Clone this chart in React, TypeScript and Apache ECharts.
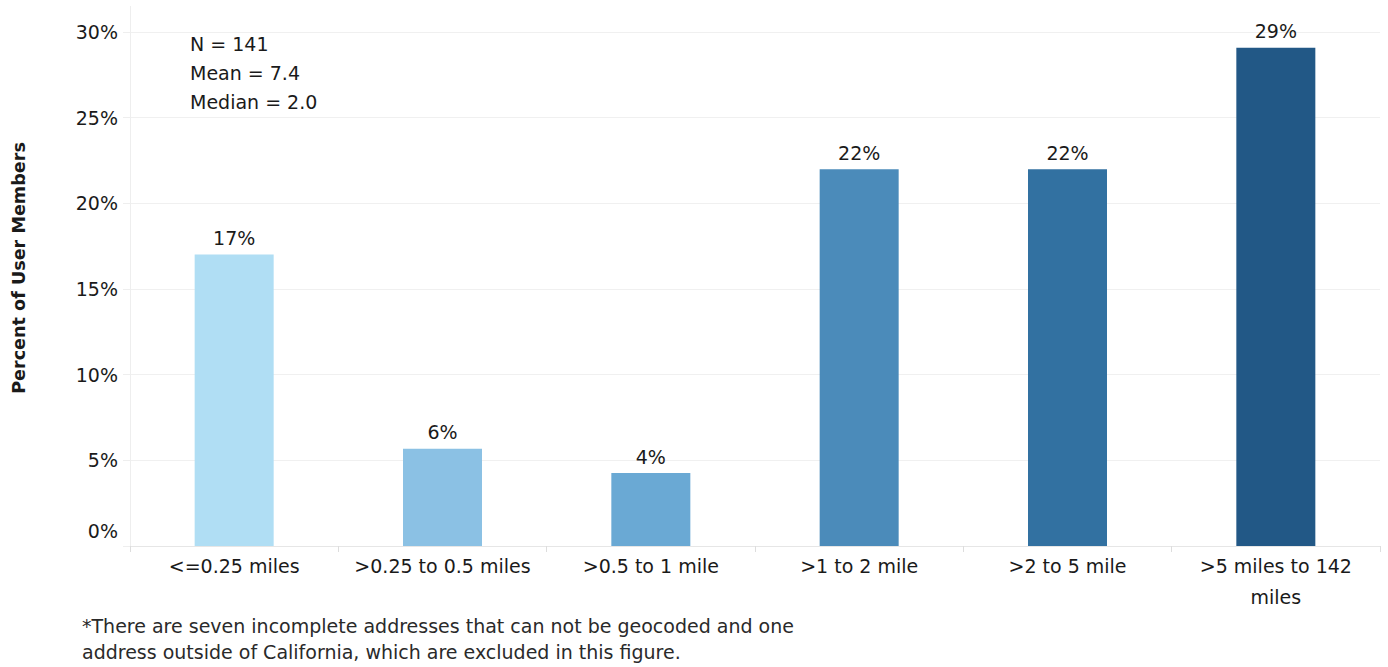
import React, { useEffect, useRef } from "react";
import * as echarts from "echarts";

// Distance bands from home to the nearest station
const categories = [
  "<=0.25 miles",
  ">0.25 to 0.5 miles",
  ">0.5 to 1 mile",
  ">1 to 2 mile",
  ">2 to 5 mile",
  ">5 miles to 142\nmiles",
];

// Share of user members in each band (%)
const percentValues = [17.02, 5.67, 4.26, 21.99, 21.99, 29.08];

// Sequential blues, light to dark
const barColors = ["#b0def4", "#8bc1e4", "#6aa9d4", "#4b8bba", "#3271a1", "#225886"];

const yTicks = [0, 5, 10, 15, 20, 25, 30];

const statsLines = ["N = 141", "Mean = 7.4", "Median = 2.0"];

const footnoteLines = [
  "*There are seven incomplete addresses that can not be geocoded and one",
  "address outside of California, which are excluded in this figure.",
];

const FONT = "'DejaVu Sans', 'Noto Sans', sans-serif";

export default function App() {
  const ref = useRef<HTMLDivElement>(null);

  useEffect(() => {
    if (!ref.current) return;
    const chart = echarts.init(ref.current, undefined, { renderer: "svg" });

    const option: echarts.EChartsOption = {
      animation: false,
      backgroundColor: "#ffffff",
      textStyle: { fontFamily: FONT },
      grid: { left: 130, right: 8, top: 32, bottom: 121, containLabel: false },
      xAxis: {
        type: "category",
        data: categories,
        axisLine: { show: true, lineStyle: { color: "#e6e6e6", width: 1 } },
        axisTick: { show: true, alignWithLabel: false, length: 6, lineStyle: { color: "#dddddd" } },
        axisLabel: {
          color: "#1a1a1a",
          fontSize: 19,
          fontFamily: FONT,
          margin: 4,
          lineHeight: 31,
          interval: 0,
        },
      },
      yAxis: {
        type: "value",
        min: yTicks[0],
        max: yTicks[yTicks.length - 1],
        interval: 5,
        axisLine: { show: true, lineStyle: { color: "#eeeeee" } },
        axisTick: { show: true, length: 7, lineStyle: { color: "#eeeeee" } },
        splitLine: { show: true, lineStyle: { color: "#f0f0f0", width: 1 } },
        axisLabel: {
          color: "#1a1a1a",
          fontSize: 19,
          fontFamily: FONT,
          margin: 12,
          formatter: (v: number) => (v === 0 ? "{z|0%}" : `${v}%`),
          rich: {
            z: { fontSize: 19, fontFamily: FONT, color: "#1a1a1a", padding: [0, 0, 30, 0] },
          },
        },
      },
      series: [
        {
          type: "bar",
          barWidth: 79,
          data: percentValues.map((v, i) => ({ value: v, itemStyle: { color: barColors[i] } })),
          label: {
            show: true,
            position: "top",
            distance: 7,
            color: "#1a1a1a",
            fontSize: 19,
            fontFamily: FONT,
            formatter: (p: any) => `${Math.round(p.value)}%`,
          },
        },
      ],
      graphic: [
        // upward extension of the value axis line
        {
          type: "line",
          shape: { x1: 130.5, y1: 6, x2: 130.5, y2: 32 },
          style: { stroke: "#eeeeee", lineWidth: 1 },
        },
        {
          type: "text",
          x: 19,
          y: 268,
          rotation: Math.PI / 2,
          style: {
            text: "Percent of User Members",
            fontSize: 17.6,
            fontWeight: "bold",
            fontFamily: FONT,
            fill: "#1a1a1a",
            align: "center",
            verticalAlign: "middle",
          },
        },
        ...statsLines.map((t, i) => ({
          type: "text" as const,
          left: 190,
          top: 34 + i * 29,
          style: {
            text: t,
            fontSize: 19,
            fontFamily: FONT,
            fill: "#1a1a1a",
          },
        })),
        ...footnoteLines.map((t, i) => ({
          type: "text" as const,
          left: 82,
          top: 616 + i * 26,
          style: {
            text: t,
            fontSize: 19,
            fontFamily: FONT,
            fill: "#2a2a2a",
          },
        })),
      ],
    };

    chart.setOption(option);
    return () => chart.dispose();
  }, []);

  return (
    <div
      ref={ref}
      style={{ position: "fixed", left: 0, top: 0, width: 1388, height: 667 }}
    />
  );
}
